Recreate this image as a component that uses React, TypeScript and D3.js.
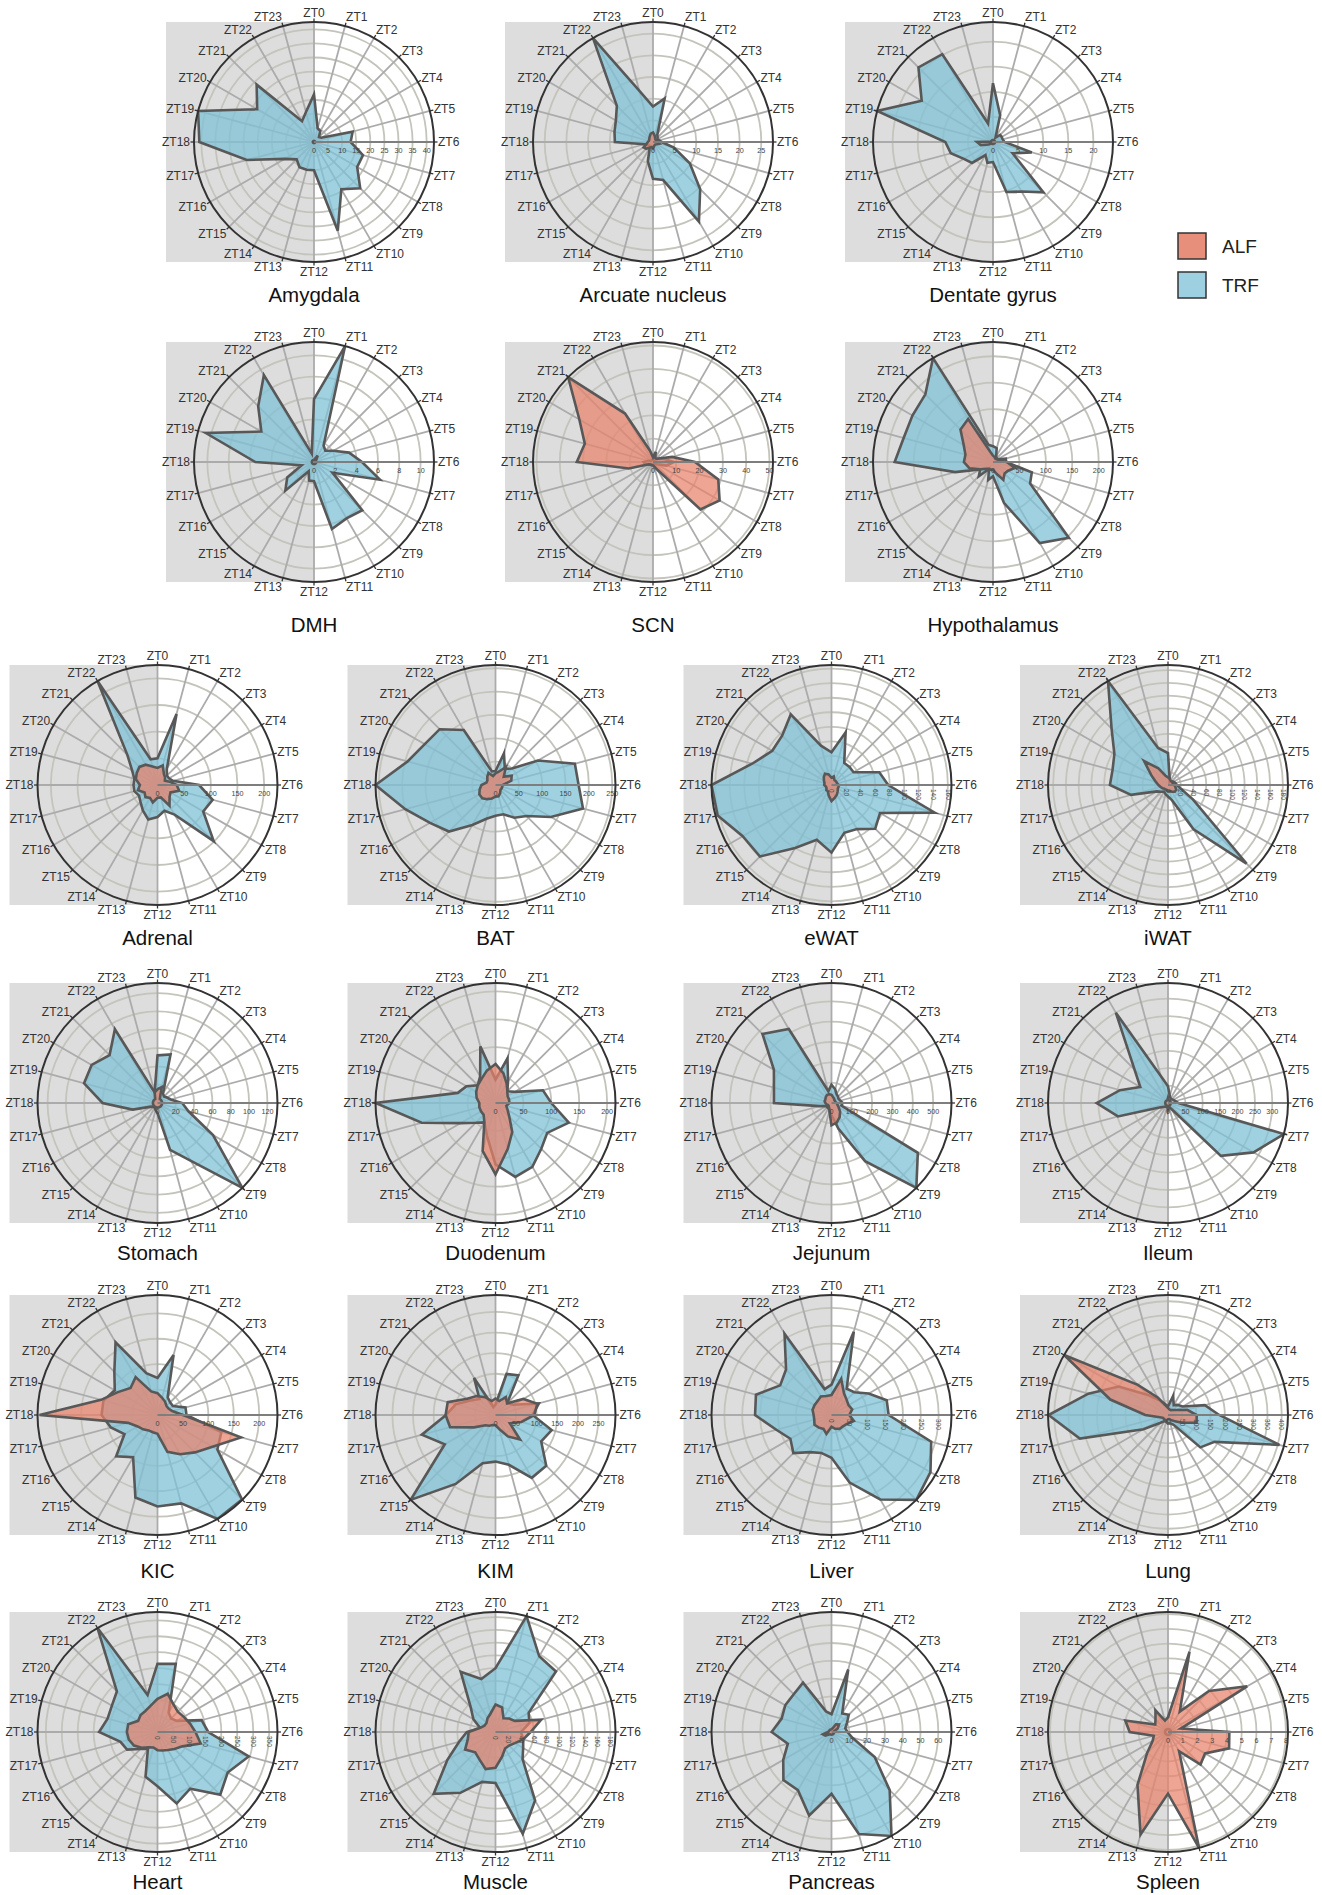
import React from 'react';
import * as d3 from 'd3';

// ---------- data (values per ZT0..ZT23) ----------
const ztLabels = d3.range(24).map((i) => `ZT${i}`);

const amygdalaALF = [0.4,0.4,0.4,0.4,0.4,0.4,0.4,0.4,0.4,0.4,0.4,0.4,0.4,0.4,0.4,0.4,0.4,0.4,0.4,0.4,0.4,0.4,0.4,0.4];
const amygdalaTRF = [16.9,5,4.5,2.5,3,14.2,13,18,17.7,23.2,19.4,32.6,10,10.2,10.3,8.7,12,24.7,40.7,42.6,23.3,28.8,8.5,11];

const arcuateALF = [2.2,1.5,1,0.8,0.8,0.8,1,1.5,1,0.8,0.8,1,1.5,1.2,1.5,2.2,2.5,1.5,1.2,1,1,1.2,1.5,2];
const arcuateTRF = [8.2,10.4,2,1.5,1.2,1.5,2,5,9.8,15.4,21.2,9.1,8.5,4.6,1.5,1.2,1.5,2,8.8,9.2,9.9,11.8,27.7,12.3];

const dentateALF = [0.4,0.4,0.4,0.4,0.4,0.4,0.4,0.4,0.4,0.4,0.4,0.4,0.4,0.4,0.4,0.4,1,2.5,3.2,0.4,0.4,0.4,0.4,0.4];
const dentateTRF = [11.7,5.5,1,2,2,2,2.3,8,4.5,14.2,11.4,10.3,4,4.3,3,5.9,6.7,8.7,9.5,23.9,16.4,21,20.2,3.8];

const dmhALF = [0.2,0.3,0.7,0.3,0.2,0.2,0.2,0.2,0.2,0.2,0.2,0.2,0.2,0.2,0.2,0.2,0.2,0.2,0.2,0.2,0.2,0.2,0.2,0.2];
const dmhTRF = [5.9,11.25,1.8,1.5,2.1,3.4,4.5,6.4,2,6.4,6.1,6.5,1.8,1.8,1,3.8,2.9,1.2,5.5,10.5,5.7,7.4,9.4,0.8];

const scnALF = [2,4.5,2,2,3,8.5,18,29,33,28.8,4,2,1.5,1.5,1.5,1.5,2,10.7,32.7,30.3,36.5,51.5,24,5];
const scnTRF = [1,1,1,1.5,3,5,9,6,2,1,1,1,1,1,1,1.5,2,3.5,4,2,1,1,1,1];

const hypothalamusALF = [12,10,8,8,10,12,26,43,33,31,39,22,15,15,15,18,28,46,55,54,64,87,94,20];
const hypothalamusTRF = [30,27,12,10,10,25,25,76,81,203,177,80,27,35,15,38,28,74,186,175,176,181,227,34];

const adrenalALF = [32,38,24,20,16,24,36,42,28,32,45,24,24,34,28,32,28,38,33,42,45,48,44,36];
const adrenalTRF = [50,138,35,25,25,30,78,107,99,149,64,50,60,67,55,45,40,45,45,45,55,80,225,50];

const batALF = [25,30,45,25,40,35,15,15,15,15,20,25,25,30,35,40,40,35,30,20,20,25,30,20];
const batTRF = [30,70,40,50,105,176,178,194,137,94,81,65,66,75,99,141,162,200,257,195,175,169,136,30];

const ewatALF = [10,12,8,8,8,8,10,10,10,12,15,18,22,15,10,10,8,8,10,10,12,15,18,15];
const ewatTRF = [45,75,35,35,35,68,78,147,77,85,70,68,93,78,100,139,141,162,165,113,94,96,112,56];

const iwatALF = [12,10,8,8,8,8,10,12,15,15,12,10,10,8,8,8,10,12,15,20,30,53,30,15];
const iwatTRF = [50,10,5,8,10,12,14,20,45,174,80,25,18,15,12,15,20,60,91,90,97,125,188,60];

const stomachALF = [15,18,5,5,5,5,5,5,5,5,5,5,5,5,5,5,5,5,5,5,5,5,5,12];
const stomachTRF = [52,55,12,10,12,15,27,35,70,131,73,53,11,8,6,6,8,28,60,83,83,74,93,12];

const duodenumALF = [70,55,40,30,25,25,25,20,25,35,60,85,128,89,40,30,30,30,29,35,40,45,50,60];
const duodenumTRF = [42,83,45,30,40,88,100,136,107,116,132,137,110,60,40,50,72,137,215,70,60,45,55,105];

const jejunumALF = [40,30,25,20,20,20,25,30,40,60,80,100,110,40,25,20,20,25,30,35,35,40,45,45];
const jejunumTRF = [90,70,50,45,40,45,55,50,490,590,330,130,60,30,30,30,30,60,283,293,327,480,420,60];

const ileumALF = [15,8,8,8,8,8,8,8,8,8,8,12,20,8,8,8,8,8,8,8,8,8,8,8];
const ileumTRF = [48,20,15,15,18,22,30,345,284,215,20,12,12,12,12,15,25,149,205,143,92,136,300,80];

const kicALF = [43,35,30,25,25,30,50,170,125,104,89,75,37,35,35,40,45,60,232,115,90,75,86,48];
const kicTRF = [73,122,40,35,35,57,57,130,136,235,236,180,180,168,96,115,75,95,110,110,97,120,165,85];

const kimALF = [40,35,50,40,78,105,94,65,40,84,60,35,25,25,30,35,60,114,121,120,79,65,50,35];
const kimTRF = [25,103,111,40,50,109,90,141,128,174,176,125,113,121,193,291,142,185,120,100,70,55,104,20];

const liverALF = [56,105,70,60,55,60,50,65,50,45,45,40,33,55,45,50,55,50,50,55,55,55,60,55];
const liverTRF = [85,241,85,90,120,160,160,289,320,336,273,196,120,110,120,151,133,160,214,219,166,180,263,75];

const lungALF = [25,20,20,25,35,70,101,104,55,30,20,15,15,20,20,20,20,30,80,210,422,150,70,35];
const lungTRF = [30,70,40,50,60,134,180,406,189,161,40,30,30,25,25,40,100,321,420,290,200,100,60,40];

const heartALF = [104,124,100,90,95,105,119,140,90,75,65,60,57,50,55,70,85,93,96,95,70,75,76,85];
const heartTRF = [214,221,70,60,70,143,159,296,254,278,205,232,170,145,60,75,110,120,183,162,165,180,376,120];

const muscleALF = [43,40,25,30,35,74,55,45,35,30,30,40,56,60,50,45,55,45,42,25,20,20,25,30];
const muscleTRF = [100,188,137,134,60,55,40,45,50,60,124,165,80,81,110,137,87,59,45,25,40,55,109,86];

const pancreasALF = [1.5,2,5,6,4,1.5,1.5,1.5,1.5,1.5,1.5,1.5,1.5,1.5,1.5,2,4,5,2,1.5,1.5,1.5,1.5,1.5];
const pancreasTRF = [10,36.3,12,13.7,10,8,9,12,28,46.2,67.4,59.3,34.7,48.5,37.7,38.2,31.3,25.4,33.6,29,30,30,32,12];

const spleenALF = [1,5.63,1.6,3.93,6.2,0.9,4.16,4.29,2.9,3.12,1.5,8.14,4.18,7.2,4.14,2,1.2,1,2.6,3,1,1.2,1.7,0.8];
const spleenTRF = [0.2,0.2,0.2,0.2,0.2,0.2,0.2,0.2,0.2,0.2,0.2,0.2,0.2,0.2,0.2,0.2,0.2,0.2,0.2,0.2,0.2,0.2,0.2,0.2];

const tissueNames = ['Amygdala','Arcuate nucleus','Dentate gyrus','DMH','SCN','Hypothalamus',
  'Adrenal','BAT','eWAT','iWAT','Stomach','Duodenum','Jejunum','Ileum',
  'KIC','KIM','Liver','Lung','Heart','Muscle','Pancreas','Spleen'];
const alfSeries = [amygdalaALF, arcuateALF, dentateALF, dmhALF, scnALF, hypothalamusALF,
  adrenalALF, batALF, ewatALF, iwatALF, stomachALF, duodenumALF, jejunumALF, ileumALF,
  kicALF, kimALF, liverALF, lungALF, heartALF, muscleALF, pancreasALF, spleenALF];
const trfSeries = [amygdalaTRF, arcuateTRF, dentateTRF, dmhTRF, scnTRF, hypothalamusTRF,
  adrenalTRF, batTRF, ewatTRF, iwatTRF, stomachTRF, duodenumTRF, jejunumTRF, ileumTRF,
  kicTRF, kimTRF, liverTRF, lungTRF, heartTRF, muscleTRF, pancreasTRF, spleenTRF];
const tickSteps = [5,5,5,2,10,50, 50,50,20,20, 20,50,100,50, 50,50,50,50, 50,20,10,1];
const rotatedTickLabels = [false,false,false,false,false,false, false,false,true,true, false,false,false,false, false,false,true,true, true,true,false,false];

const legendLabels = ['ALF', 'TRF'];

// ---------- layout ----------
const W = 1322, H = 1895;
const R = 120;
const rowY = [142, 462, 785, 1103, 1415, 1732];
const titleOffset = [160, 170, 160, 157, 163, 157];
const col3X = [314, 653, 993];
const col4X = [157.5, 495.5, 831.5, 1168];

const ALF_FILL = '#e7826b';
const TRF_FILL = '#80c2d6';
const FONT = '"Liberation Sans", Arial, Helvetica, sans-serif';

function panelPos(i: number) {
  if (i < 6) return { cx: col3X[i % 3], cy: rowY[Math.floor(i / 3)], row: Math.floor(i / 3) };
  const j = i - 6;
  const row = 2 + Math.floor(j / 4);
  return { cx: col4X[j % 4], cy: rowY[row], row };
}

function Panel({ idx }: { idx: number }) {
  const { cx, cy, row } = panelPos(idx);
  const alf = alfSeries[idx];
  const trf = trfSeries[idx];
  const step = tickSteps[idx];
  const rotated = rotatedTickLabels[idx];
  const maxV = d3.max([...alf, ...trf]) as number;
  const rScale = d3.scaleLinear().domain([0, maxV]).range([0, R]);
  const aScale = d3.scaleLinear().domain([0, 24]).range([0, 2 * Math.PI]);
  const ticks = d3.range(0, maxV + 1e-9, step);
  const radial = d3
    .lineRadial<number>()
    .angle((_d, i) => aScale(i))
    .radius((d) => rScale(d))
    .curve(d3.curveLinearClosed);

  return (
    <g>
      <rect x={cx - 148} y={cy - R} width={148} height={2 * R} fill="#dddddd" />
      <g transform={`translate(${cx},${cy})`}>
        {ticks.filter((t) => t > 0).map((t) => (
          <circle key={'c' + t} r={rScale(t)} fill="none" stroke="#c4c4bc" strokeWidth={1.8} />
        ))}
        {ztLabels.map((_z, i) => {
          const a = aScale(i);
          return (
            <line key={'s' + i} x1={0} y1={0} x2={R * Math.sin(a)} y2={-R * Math.cos(a)}
              stroke="#ababab" strokeWidth={1.8} />
          );
        })}
        <path d={radial(trf) as string} fill={TRF_FILL} fillOpacity={0.75} stroke="#585858" strokeWidth={2.6} strokeLinejoin="miter" />
        <path d={radial(alf) as string} fill={ALF_FILL} fillOpacity={0.72} stroke="#585858" strokeWidth={2.6} strokeLinejoin="miter" />
        <line x1={0} y1={0} x2={R} y2={0} stroke="#7e7e7e" strokeWidth={2} />
        {ticks.map((t) =>
          rotated ? (
            <text key={'t' + t} transform={`translate(${rScale(t)},${4}) rotate(90)`} dy="0.35em"
              fontSize={6.5} fill="#444" textAnchor="start" fontFamily={FONT}>{t}</text>
          ) : (
            <text key={'t' + t} x={rScale(t)} y={10.5} fontSize={7.2} fill="#444" textAnchor="middle" fontFamily={FONT}>{t}</text>
          )
        )}
        <circle r={R} fill="none" stroke="#333" strokeWidth={2} />
        {ztLabels.map((z, i) => {
          const a = aScale(i);
          const s = Math.sin(a), c = Math.cos(a);
          const anchor = s > 0.05 ? 'start' : s < -0.05 ? 'end' : 'middle';
          return (
            <g key={'l' + i}>
              <line x1={R * s} y1={-R * c} x2={(R + 3.5) * s} y2={-(R + 3.5) * c} stroke="#333" strokeWidth={1.3} />
              <text x={(R + 4) * s} y={-(R + 4) * c} dy={`${0.35 - 0.45 * c}em`} textAnchor={anchor}
                fontSize={12} fill="#333" fontFamily={FONT}>{z}</text>
            </g>
          );
        })}
      </g>
      <text x={cx} y={cy + titleOffset[row]} textAnchor="middle" fontSize={20.5} fill="#111" fontFamily={FONT}>
        {tissueNames[idx]}
      </text>
    </g>
  );
}

export default function App() {
  return (
    <svg width={W} height={H} viewBox={`0 0 ${W} ${H}`}
      style={{ position: 'absolute', left: 0, top: 0, display: 'block', background: '#fff' }}>
      <rect x={0} y={0} width={W} height={H} fill="#fff" />
      {tissueNames.map((_n, i) => <Panel key={i} idx={i} />)}
      {legendLabels.map((l, i) => (
        <g key={l}>
          <rect x={1178} y={233 + i * 39} width={28} height={26} fill={i === 0 ? '#e88f7b' : '#9dd1e2'} stroke="#333" strokeWidth={1.5} />
          <text x={1222} y={246 + i * 39} dy="0.35em" fontSize={19} fill="#222" fontFamily={FONT}>{l}</text>
        </g>
      ))}
    </svg>
  );
}
